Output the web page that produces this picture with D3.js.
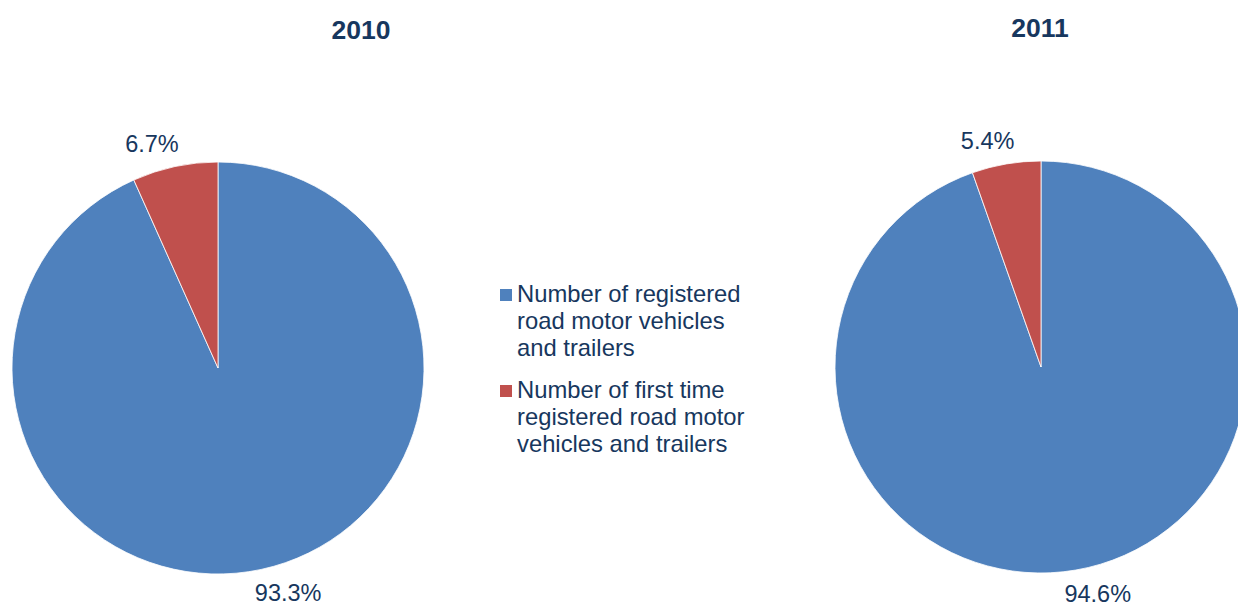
<!DOCTYPE html>
<html>
<head>
<meta charset="utf-8">
<script src="https://cdn.jsdelivr.net/npm/d3@7"></script>
<style>
  html, body { margin: 0; padding: 0; background: #fff; }
  svg { display: block; font-family: "Liberation Sans", Arial, sans-serif; }
</style>
</head>
<body>
<svg id="chart" width="1238" height="607"></svg>
<script>
// ---- data ----
const years = ["2010", "2011"];
const categories = [
  "Number of registered road motor vehicles and trailers",
  "Number of first time registered road motor vehicles and trailers"
];
const values2010 = [93.3, 6.7];
const values2011 = [94.6, 5.4];
const legendLines = [
  ["Number of registered", "road motor vehicles", "and trailers"],
  ["Number of first time", "registered road motor", "vehicles and trailers"]
];

const colors = ["#4F81BD", "#C0504D"];
const textColor = "#17375E";

const svg = d3.select("#chart");
const color = d3.scaleOrdinal().domain(categories).range(colors);

const pies = [
  { year: years[0], values: values2010, cx: 218, cy: 368, titleX: 361, titleY: 39 },
  { year: years[1], values: values2011, cx: 1041, cy: 367, titleX: 1040, titleY: 37 }
];

const radius = 206;
const labelRy = 230;
const labelRxBase = 236;
const pie = d3.pie().sort(null).value(d => d.v);
const arc = d3.arc().innerRadius(0).outerRadius(radius);

pies.forEach(p => {
  const data = categories.map((c, i) => ({ c, v: p.values[i] }));
  const g = svg.append("g").attr("transform", `translate(${p.cx},${p.cy})`);
  const arcs = pie(data);
  g.selectAll("path")
    .data(arcs)
    .join("path")
    .attr("d", arc)
    .attr("fill", d => color(d.data.c))
    .attr("stroke", "#ffffff")
    .attr("stroke-width", 0.8);
  g.selectAll("text.lbl")
    .data(arcs)
    .join("text")
    .attr("class", "lbl")
    .attr("text-anchor", "middle")
    .attr("dy", "0.36em")
    .attr("font-size", 23.5)
    .attr("fill", textColor)
    .text(d => d3.format(".1f")(d.data.v) + "%")
    .each(function(d) {
      const a = (d.startAngle + d.endAngle) / 2;
      const hw = this.getComputedTextLength() / 2;
      const x = Math.sin(a) * (labelRxBase + 3 * hw);
      const y = -Math.cos(a) * labelRy;
      d3.select(this).attr("x", x).attr("y", y);
    });

  svg.append("text")
    .attr("x", p.titleX)
    .attr("y", p.titleY)
    .attr("text-anchor", "middle")
    .attr("font-size", 26.5)
    .attr("font-weight", "bold")
    .attr("fill", textColor)
    .text(p.year);
});

// legend
const legend = svg.append("g");
const itemTops = [302, 398];
categories.forEach((c, i) => {
  const gy = itemTops[i];
  legend.append("rect")
    .attr("x", 500)
    .attr("y", gy - 13)
    .attr("width", 12)
    .attr("height", 12)
    .attr("fill", color(c));
  const t = legend.append("text")
    .attr("x", 517)
    .attr("y", gy)
    .attr("font-size", 23.8)
    .attr("fill", textColor);
  legendLines[i].forEach((line, j) => {
    t.append("tspan")
      .attr("x", 517)
      .attr("y", gy + j * 27)
      .text(line);
  });
});
</script>
</body>
</html>
